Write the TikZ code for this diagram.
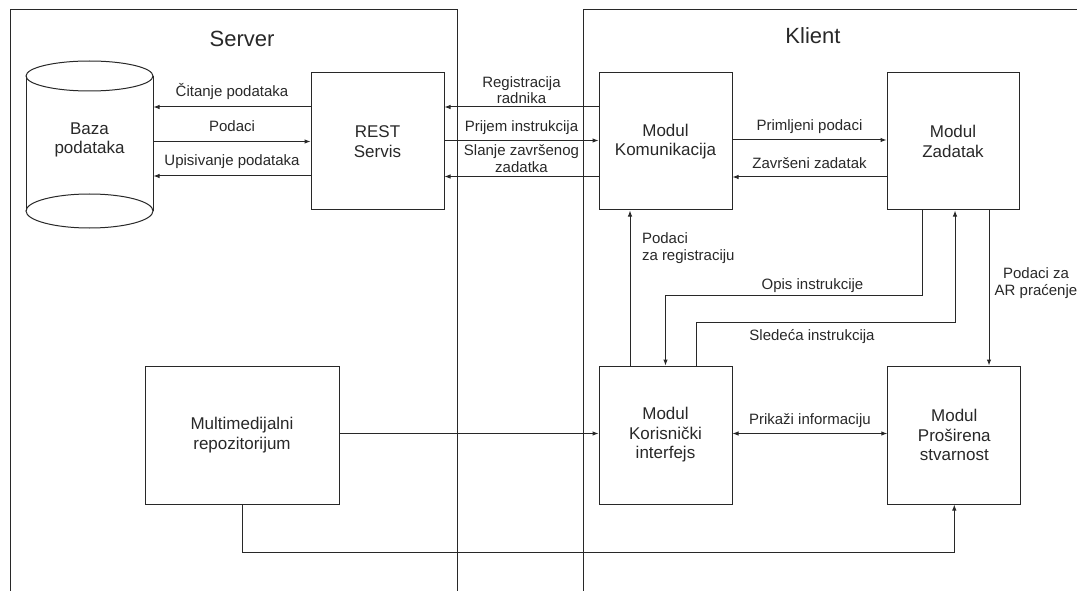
\documentclass[tikz,border=0pt]{standalone}
\usepackage{fontspec}
\setmainfont{Liberation Sans}
\usetikzlibrary{arrows.meta,calc}
\definecolor{ink}{RGB}{40,40,40}
\begin{document}
\begin{tikzpicture}[x=1pt,y=-1pt,line width=1pt,color=ink,
  box/.style={draw, rectangle, minimum width=133pt, minimum height=137pt,
    align=center, inner sep=0pt, font=\fontsize{17}{19.5}\selectfont},
  lbl/.style={align=center, inner sep=1pt, text depth=3.5pt,
    font=\fontsize{15}{16.7}\selectfont},
  freelbl/.style={align=left, inner sep=1pt, font=\fontsize{15}{16.7}\selectfont},
  title/.style={inner sep=0pt, font=\fontsize{22}{26}\selectfont},
  arr/.style={-{Latex[length=6pt,width=4.5pt]}},
  dblarr/.style={{Latex[length=6pt,width=4.5pt]}-{Latex[length=6pt,width=4.5pt]}},
]
\useasboundingbox (0,0) rectangle (1077,591);

% frames of the two sides
\draw (10,600) -- (10,10) -- (457,10) -- (457,600);
\draw (583,600) -- (583,10) -- (1100,10);
\node[title, anchor=base] (srv) at (242,46.5) {Server};
\node[title, anchor=base] (kli) at (813,44) {Klient};

% database cylinder
\node (db) [minimum width=127pt, minimum height=134pt, inner sep=0pt, align=center,
  font=\fontsize{17}{19.5}\selectfont] at (89.5,140) {Baza\\podataka};
\draw (89.5,76) ellipse [x radius=63.5pt, y radius=15pt];
\draw (26,76) -- (26,211) (153,76) -- (153,211);
\draw (89.5,211) ellipse [x radius=63.5pt, y radius=17pt];

% boxes
\node[box] (rest)  at (377.5,141.5) {REST\\Servis};
\node[box] (kom)   at (665.5,141.5) {Modul\\Komunikacija};
\node[box, minimum width=132pt] (zad) at (953,141.5) {Modul\\Zadatak};
\node[box, minimum height=138pt] (ui) at (665.5,435) {Modul\\Korisnički\\interfejs};
\node[box, minimum height=138pt] (ar) at (954.3,435) {Modul\\Proširena\\stvarnost};
\node[box, minimum width=194pt, minimum height=138pt] (multi) at (242,435)
  {Multimedijalni\\repozitorijum};

% server side
\draw[arr] ([yshift=34.5pt]rest.west) -- ([yshift=34.5pt]rest.west -| db.east)
  node[lbl, midway, above=5pt] (l1) {Čitanje podataka};
\draw[arr] (db.east |- rest.west) -- (rest.west)
  node[lbl, midway, above=5pt] (l2) {Podaci};
\draw[arr] ([yshift=-34.5pt]rest.west) -- ([yshift=-34.5pt]rest.west -| db.east)
  node[lbl, midway, above=5pt] (l3) {Upisivanje podataka};

% server <-> client
\draw[arr] ([yshift=34.5pt]kom.west) -- ([yshift=34.5pt]rest.east)
  node[lbl, midway, above=-2pt] (l4) {Registracija\\radnika};
\draw[arr] ([yshift=1pt]rest.east) -- ([yshift=1pt]kom.west)
  node[lbl, midway, above=4pt] (l5) {Prijem instrukcija};
\draw[arr] ([yshift=-35pt]kom.west) -- ([yshift=-35pt]rest.east)
  node[lbl, midway, above=-0.5pt] (l6) {Slanje završenog\\zadatka};

% client modules
\draw[arr] ([yshift=1.5pt]kom.east) -- ([yshift=1.5pt]zad.west)
  node[lbl, midway, above=4pt] (l7) {Primljeni podaci};
\draw[arr] ([yshift=-35.5pt]zad.west) -- ([yshift=-35.5pt]kom.east)
  node[lbl, midway, above=4pt] (l8) {Završeni zadatak};

\draw[arr] ([xshift=-35.5pt]ui.north) -- ([xshift=-35.5pt]kom.south);
\node[freelbl, anchor=north west] (l9) at (640.5,231.5) {Podaci\\za registraciju};

\draw[arr] ([xshift=-31pt]zad.south) -- ++(0,85) -| (ui.north);
\node[freelbl, anchor=base] (l10) at (812.5,289.5) {Opis instrukcije};

\draw[arr] ([xshift=30.5pt]ui.north) -- ++(0,-43) -| ([xshift=2pt]zad.south);
\node[freelbl, anchor=base] (l11) at (812,340) {Sledeća instrukcija};

\draw[arr] ([xshift=36pt]zad.south) -- ([xshift=36pt]zad.south |- ar.north);
\node[freelbl, align=center, anchor=north] (l12) at (1036,266.5) {Podaci za\\AR praćenje};

\draw[dblarr] ([yshift=1.5pt]ui.east) -- ([yshift=1.5pt]ar.west)
  node[lbl, midway, above=4pt] (l13) {Prikaži informaciju};

% repository links
\draw[arr] ([yshift=1.5pt]multi.east) -- ([yshift=1.5pt]ui.west);
\draw[arr] (multi.south) -- ++(0,48) -| (ar.south);
\end{tikzpicture}
\end{document}
